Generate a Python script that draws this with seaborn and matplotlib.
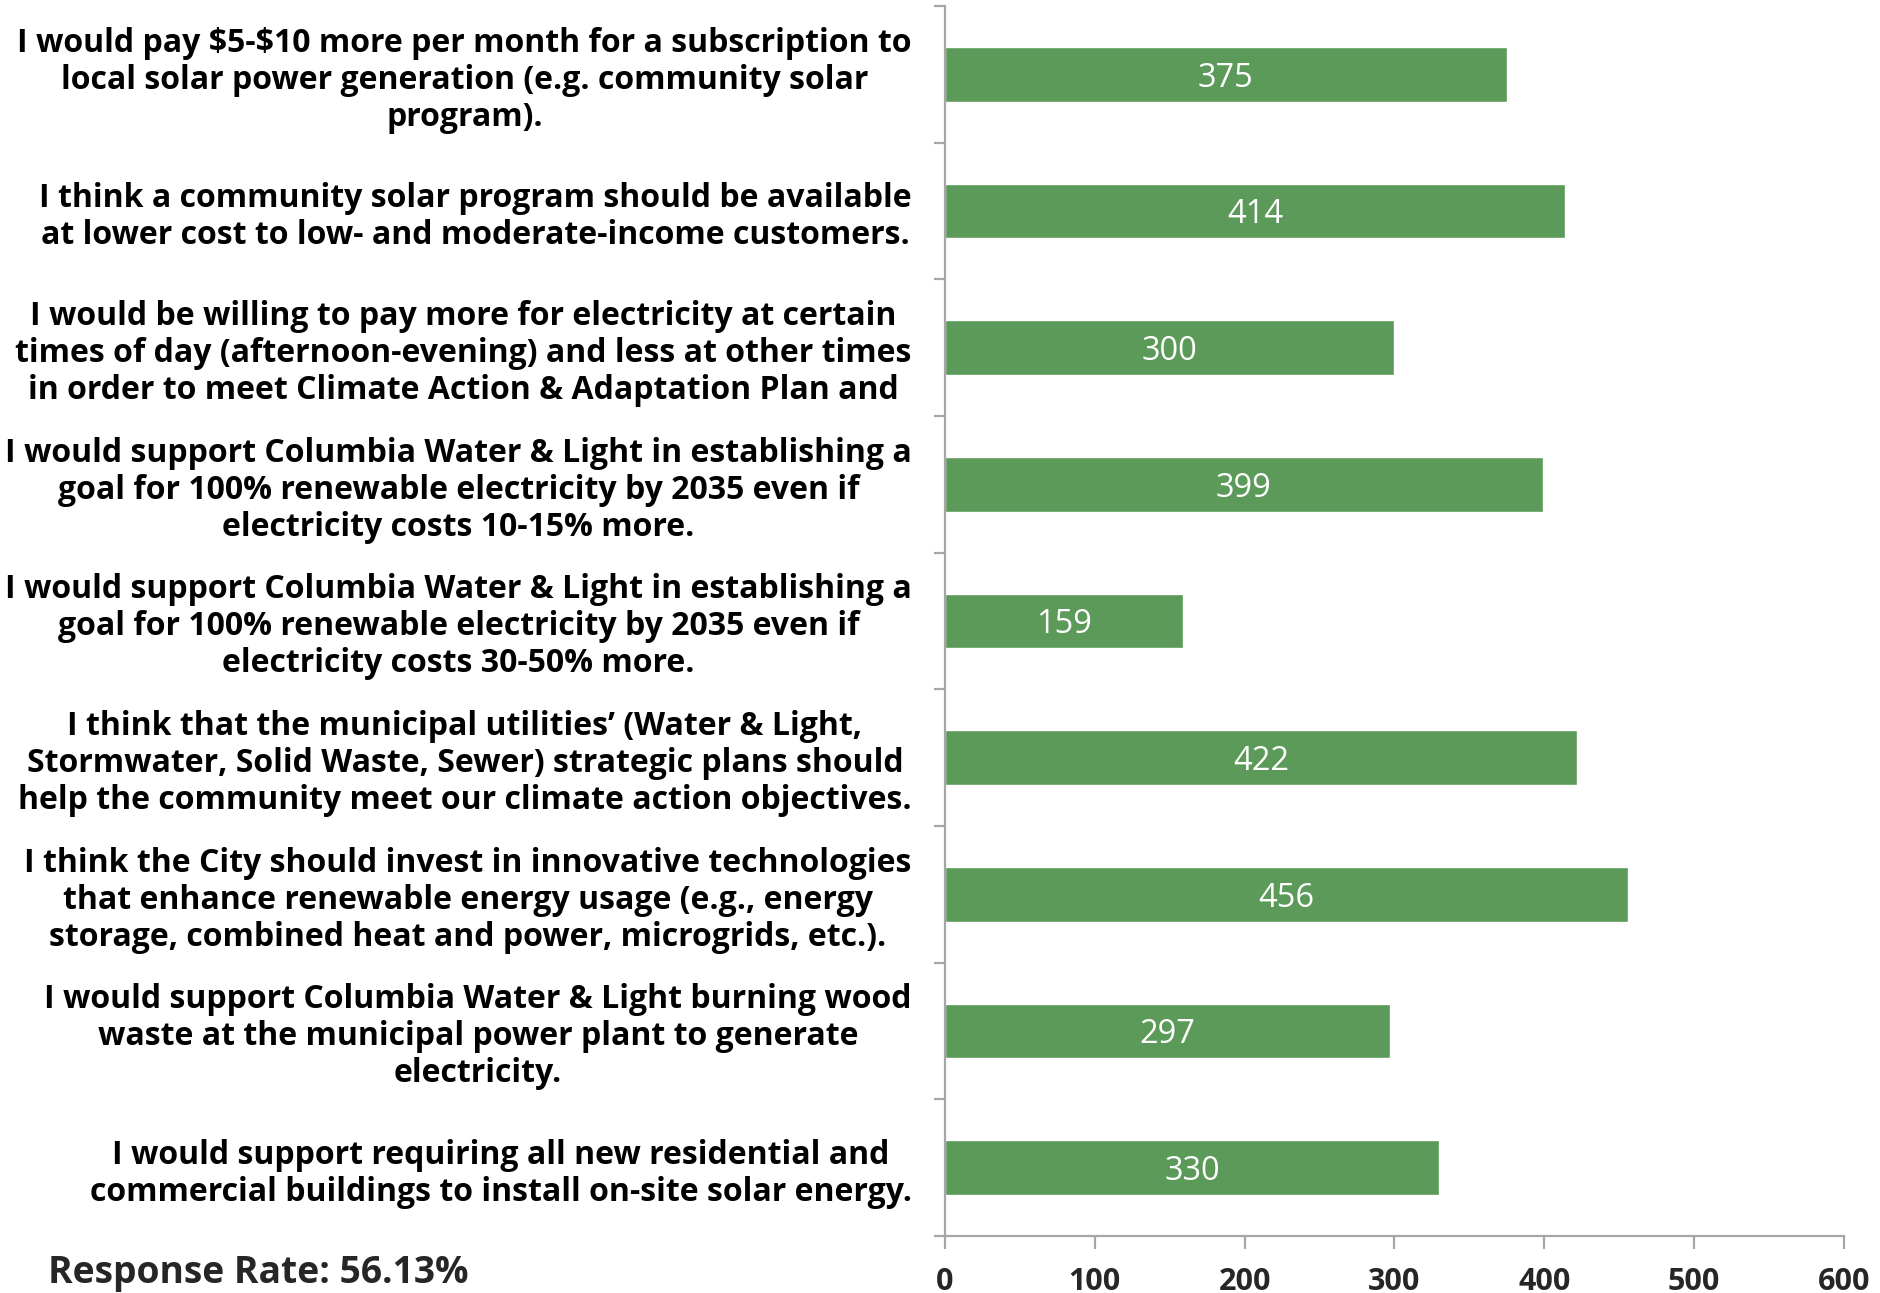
import matplotlib
matplotlib.use("Agg")
import matplotlib.pyplot as plt
import seaborn as sns
import pandas as pd
import numpy as np

categories = [
    "I would pay \\$5-\\$10 more per month for a subscription to\nlocal solar power generation (e.g. community solar\nprogram).",
    "I think a community solar program should be available\nat lower cost to low- and moderate-income customers.",
    "I would be willing to pay more for electricity at certain\ntimes of day (afternoon-evening) and less at other times\nin order to meet Climate Action & Adaptation Plan and",
    "I would support Columbia Water & Light in establishing a\ngoal for 100% renewable electricity by 2035 even if\nelectricity costs 10-15% more.",
    "I would support Columbia Water & Light in establishing a\ngoal for 100% renewable electricity by 2035 even if\nelectricity costs 30-50% more.",
    "I think that the municipal utilities\u2019 (Water & Light,\nStormwater, Solid Waste, Sewer) strategic plans should\nhelp the community meet our climate action objectives.",
    "I think the City should invest in innovative technologies\nthat enhance renewable energy usage (e.g., energy\nstorage, combined heat and power, microgrids, etc.).",
    "I would support Columbia Water & Light burning wood\nwaste at the municipal power plant to generate\nelectricity.",
    "I would support requiring all new residential and\ncommercial buildings to install on-site solar energy.",
]
values = [375, 414, 300, 399, 159, 422, 456, 297, 330]
x_ticks = [0, 100, 200, 300, 400, 500, 600]
note = "Response Rate: 56.13%"

sns.set_style("white")
plt.rcParams['font.family'] = ['Open Sans', 'DejaVu Sans']

df = pd.DataFrame({"statement": categories, "count": values})

fig = plt.figure(figsize=(18.81, 12.93), dpi=100)
ax = fig.add_axes([0.5024, 0.0441, 0.4779, 0.9513])

sns.barplot(data=df, x="count", y="statement", orient="h", color="#5B9A58",
            saturation=1, width=0.4, ax=ax)

texts = ax.bar_label(ax.containers[0], label_type="center", color="white", fontsize=23.5)
for t in texts:
    t.set_va("center_baseline")

ax.set_xlim(0, 600)
ax.set_xticks(x_ticks)
ax.set_xticklabels([str(t) for t in x_ticks], fontsize=22, fontweight="bold")
ax.set_ylim(len(categories) - 0.5, -0.5)
ax.set_xlabel("")
ax.set_ylabel("")

for lbl in ax.get_yticklabels():
    lbl.set_fontweight("bold")
    lbl.set_fontsize(23)
    lbl.set_multialignment("center")
    lbl.set_linespacing(1.16)
    lbl.set_color("black")

gray = "#A6A6A6"
for s in ["top", "right"]:
    ax.spines[s].set_visible(False)
for s in ["left", "bottom"]:
    ax.spines[s].set_color(gray)
    ax.spines[s].set_linewidth(1.6)

ax.tick_params(axis="y", which="major", length=0, pad=24)
ax.set_yticks(np.arange(-0.5, len(categories), 1.0), minor=True)
ax.tick_params(axis="y", which="minor", length=8, width=1.6, color=gray, direction="out", left=True)
ax.tick_params(axis="x", which="major", length=9, width=1.6, color=gray, direction="out", bottom=True, pad=13)

fig.text(0.0255, 0.0158, note, fontsize=26.8, fontweight="bold", ha="left", va="center")

fig.savefig("out.png", dpi=100)
